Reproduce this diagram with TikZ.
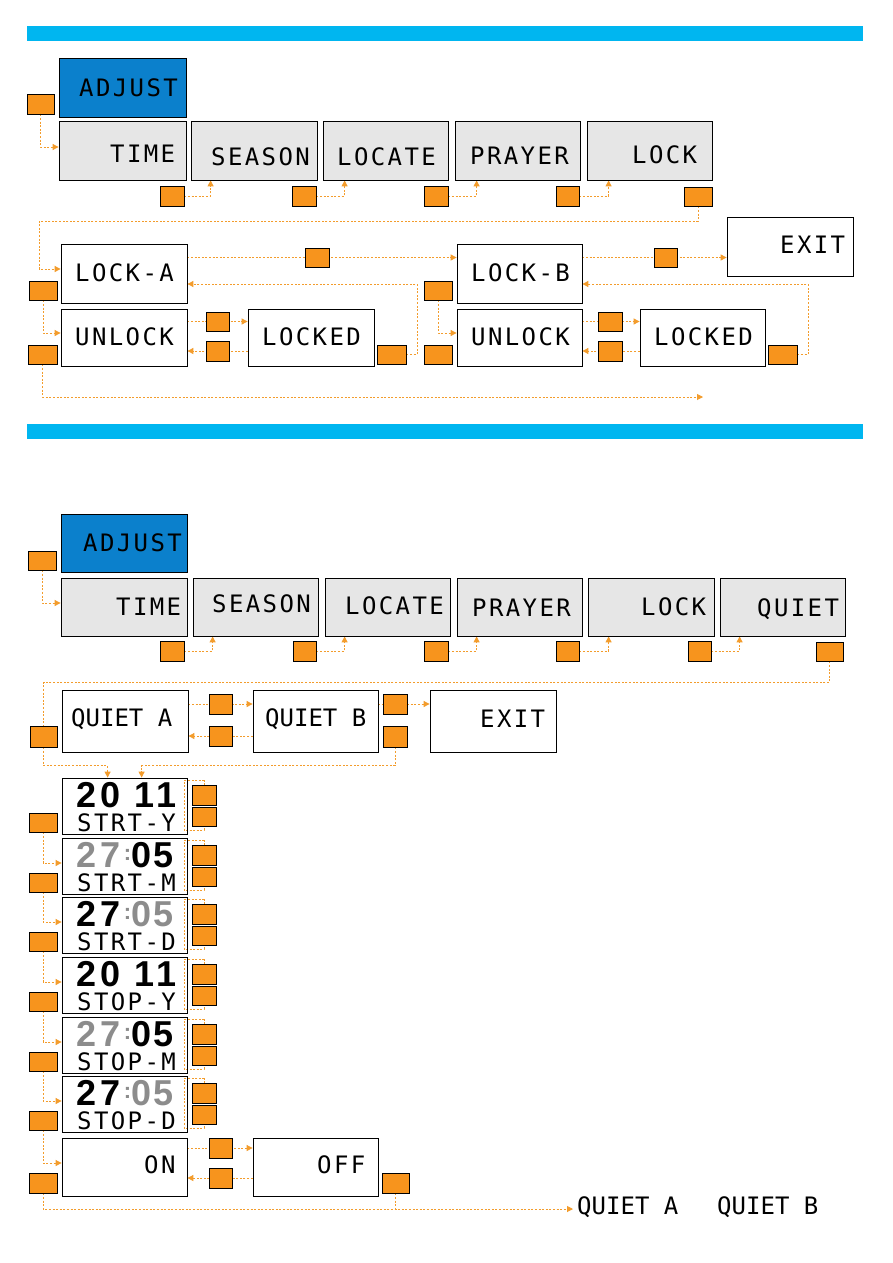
\documentclass[tikz,border=0pt]{standalone}
\usepackage{fontspec}
\usetikzlibrary{arrows.meta,calc}
\newfontfamily\lcdfont[LetterSpace=10]{DejaVu Sans Mono}
\newfontfamily\lcdtight{DejaVu Sans Mono}
\newfontfamily\digfont{Liberation Sans}
\definecolor{barblue}{HTML}{00B6F0}
\definecolor{adjblue}{HTML}{0B80CC}
\definecolor{keyor}{HTML}{F7941D}
\definecolor{lineor}{HTML}{F39C2C}
\definecolor{boxgray}{HTML}{E6E6E6}
\definecolor{diggray}{HTML}{8C8C8C}
\pgfdeclarelayer{bg}
\pgfsetlayers{bg,main}
\newcommand\mkbox[6]{%
  \pgfmathsetmacro\mybw{#4-#2}\pgfmathsetmacro\mybh{#5-#3}%
  \node[#6,minimum width=\mybw pt,minimum height=\mybh pt] (#1) at ({(#2+#4)/2},{(#3+#5)/2}) {};}
% year row: name, y
\newcommand\yearrow[2]{%
  \node[dig] (#1a) at (87,#2) {2};
  \node[dig] (#1b) at (111,#2) {0};
  \node[dig] (#1c) at (145,#2) {1};
  \node[dig] (#1d) at (167,#2) {1};}
% date row: name, y, colour of 27, colour of 05
\newcommand\daterow[4]{%
  \node[dig,#3] (#1a) at (87,#2) {2};
  \node[dig,#3] (#1b) at (111,#2) {7};
  \node[colon,diggray] (#1c) at (127.5,#2) {:};
  \node[dig,#4] (#1d) at (142,#2) {0};
  \node[dig,#4] (#1e) at (164,#2) {5};}
\tikzset{
  box/.style={draw=black,line width=0.8pt,inner sep=0pt},
  keybox/.style={draw=black,line width=0.7pt,fill=keyor,inner sep=0pt},
  conn/.style={lineor,line width=0.9pt,dash pattern=on 2pt off 1.6pt,-{Triangle[length=6pt,width=6pt]}},
  connz/.style={lineor,line width=0.9pt,dash pattern=on 2pt off 1.6pt},
  lab/.style={font=\lcdfont\fontsize{24pt}{24pt}\selectfont,anchor=west,inner sep=0pt},
  labt/.style={font=\lcdtight\fontsize{24pt}{24pt}\selectfont,anchor=west,inner sep=0pt},
  dig/.style={font=\digfont\bfseries\fontsize{36pt}{36pt}\selectfont,inner sep=0pt},
  colon/.style={font=\digfont\bfseries\fontsize{22pt}{22pt}\selectfont,inner sep=0pt},
}
\begin{document}
\begin{tikzpicture}[x=1pt,y=-1pt]
\useasboundingbox (0,0) rectangle (893,1263);
\begin{pgfonlayer}{bg}
\fill[white] (0,0) rectangle (893,1263);
\end{pgfonlayer}
\fill[barblue] (27,26) rectangle (863,41);
\fill[barblue] (27,424) rectangle (863,439);

% ===== Section 1 =====
\mkbox{adjA}{59}{58}{186}{117}{box,fill=adjblue}
\mkbox{timeA}{59}{121}{186}{180}{box,fill=boxgray}
\mkbox{seasonA}{191}{121}{317}{180}{box,fill=boxgray}
\mkbox{locateA}{323}{121}{448}{180}{box,fill=boxgray}
\mkbox{prayerA}{455}{121}{580}{180}{box,fill=boxgray}
\mkbox{lockA}{587}{121}{712}{180}{box,fill=boxgray}
\mkbox{exitA}{727}{217}{853}{276}{box}
\mkbox{lka}{61}{244}{187}{303}{box}
\mkbox{ula}{61}{309}{187}{366}{box}
\mkbox{lda}{248}{309}{374}{366}{box}
\mkbox{lkb}{457}{244}{582}{303}{box}
\mkbox{ulb}{457}{309}{582}{366}{box}
\mkbox{ldb}{640}{309}{765}{366}{box}

\mkbox{kAdjA}{27}{94}{54}{114}{keybox}
\mkbox{kTimeA}{160}{186}{184}{206}{keybox}
\mkbox{kSeasonA}{292}{186}{316}{206}{keybox}
\mkbox{kLocateA}{424}{186}{448}{206}{keybox}
\mkbox{kPrayerA}{556}{186}{579}{206}{keybox}
\mkbox{kLockA}{684}{187}{712}{206}{keybox}
\mkbox{kAB}{305}{248}{329}{267}{keybox}
\mkbox{kBE}{654}{248}{677}{267}{keybox}
\mkbox{kLka}{29}{281}{57}{300}{keybox}
\mkbox{kUla}{28}{345}{57}{364}{keybox}
\mkbox{kUa1}{206}{312}{229}{331}{keybox}
\mkbox{kUa2}{206}{341}{229}{361}{keybox}
\mkbox{kLda}{377}{345}{406}{364}{keybox}
\mkbox{kLkb}{424}{281}{452}{300}{keybox}
\mkbox{kUlb}{424}{345}{452}{364}{keybox}
\mkbox{kUb1}{598}{312}{622}{331}{keybox}
\mkbox{kUb2}{598}{341}{622}{361}{keybox}
\mkbox{kLdb}{768}{345}{797}{364}{keybox}

\node[lab] (tAdjA) at (79,88) {ADJUST};
\node[lab] (tTimeA) at (110,154) {TIME};
\node[lab] (tSeasonA) at (211,157) {SEASON};
\node[lab] (tLocateA) at (337,157) {LOCATE};
\node[lab] (tPrayerA) at (470,156) {PRAYER};
\node[lab] (tLockA) at (632,155) {LOCK};
\node[lab] (tExitA) at (780,245) {EXIT};
\node[lab] (tLka) at (75,273) {LOCK-A};
\node[lab] (tUla) at (75,337) {UNLOCK};
\node[lab] (tLda) at (262,337) {LOCKED};
\node[lab] (tLkb) at (471,273) {LOCK-B};
\node[lab] (tUlb) at (471,337) {UNLOCK};
\node[lab] (tLdb) at (654,337) {LOCKED};

\coordinate (t1) at (39,221);
\coordinate (fa) at (417,284);
\coordinate (fb) at (808,284);
\coordinate (endA) at (703,397);
\begin{pgfonlayer}{bg}
\draw[conn] (kAdjA.south) |- ([yshift=3.5pt]timeA.west);
\draw[conn] (kTimeA.east) -| ([xshift=20pt]seasonA.south west);
\draw[conn] (kSeasonA.east) -| ([xshift=22pt]locateA.south west);
\draw[conn] (kLocateA.east) -| ([xshift=22pt]prayerA.south west);
\draw[conn] (kPrayerA.east) -| ([xshift=22pt]lockA.south west);
\draw[conn] (kLockA.south) |- (t1) |- ([yshift=4.5pt]lka.west);
\draw[conn] (lka.east |- kAB.center) -- (lkb.west |- kAB.center);
\draw[conn] (lkb.east |- kBE.center) -- (exitA.west |- kBE.center);
\draw[conn] (kLda.east) -| (fa) -- (lka.east |- fa);
\draw[conn] (kLka.south) |- ([yshift=4.5pt]ula.west);
\draw[conn] (ula.east |- kUa1.center) -- (lda.west |- kUa1.center);
\draw[conn] (lda.west |- kUa2.center) -- (ula.east |- kUa2.center);
\draw[conn] (kUla.south) |- (endA);
\draw[conn] (kLkb.south) |- ([yshift=4.5pt]ulb.west);
\draw[conn] (ulb.east |- kUb1.center) -- (ldb.west |- kUb1.center);
\draw[conn] (ldb.west |- kUb2.center) -- (ulb.east |- kUb2.center);
\draw[conn] (kLdb.east) -| (fb) -- (lkb.east |- fb);
\end{pgfonlayer}

% ===== Section 2 =====
\mkbox{adjB}{61}{514}{187}{572}{box,fill=adjblue}
\mkbox{timeB}{61}{578}{187}{636}{box,fill=boxgray}
\mkbox{seasonB}{193}{578}{318}{636}{box,fill=boxgray}
\mkbox{locateB}{325}{578}{450}{636}{box,fill=boxgray}
\mkbox{prayerB}{457}{578}{582}{636}{box,fill=boxgray}
\mkbox{lockB}{588}{578}{714}{636}{box,fill=boxgray}
\mkbox{quietB}{720}{578}{845}{636}{box,fill=boxgray}
\mkbox{kAdjB}{28}{551}{56}{570}{keybox}
\mkbox{kTimeB}{160}{641}{184}{661}{keybox}
\mkbox{kSeasonB}{293}{641}{316}{661}{keybox}
\mkbox{kLocateB}{424}{641}{448}{661}{keybox}
\mkbox{kPrayerB}{556}{641}{579}{661}{keybox}
\mkbox{kLockB}{688}{641}{711}{661}{keybox}
\mkbox{kQuietB}{816}{642}{843}{661}{keybox}

\node[lab] (tAdjB) at (83,543) {ADJUST};
\node[lab] (tTimeB) at (116,607) {TIME};
\node[lab] (tSeasonB) at (212,604) {SEASON};
\node[lab] (tLocateB) at (345,606) {LOCATE};
\node[lab] (tPrayerB) at (472,608) {PRAYER};
\node[lab] (tLockB) at (641,607) {LOCK};
\node[lab] (tQuietB) at (757,609) {QUIET};

\mkbox{qa}{62}{690}{188}{752}{box}
\mkbox{qb}{253}{690}{378}{752}{box}
\mkbox{exitB}{430}{690}{556}{752}{box}
\mkbox{kQa}{30}{726}{57}{747}{keybox}
\mkbox{kQab1}{209}{694}{232}{714}{keybox}
\mkbox{kQab2}{209}{726}{232}{746}{keybox}
\mkbox{kQbe1}{383}{694}{407}{714}{keybox}
\mkbox{kQbe2}{383}{726}{407}{747}{keybox}
\node[labt] (tQa) at (71,719) {QUIET A};
\node[labt] (tQb) at (265,719) {QUIET B};
\node[lab] (tExitB) at (480,719) {EXIT};

% date boxes
\foreach \i/\T in {1/778,2/838,3/897,4/957,5/1017,6/1076}{
  \pgfmathsetmacro\Tb{\T+56}
  \mkbox{ty\i}{62}{\T}{187}{\Tb}{box}
  \pgfmathsetmacro\ua{\T+7}\pgfmathsetmacro\ub{\T+27}
  \pgfmathsetmacro\la{\T+29}\pgfmathsetmacro\lb{\T+48}
  \mkbox{kR\i u}{192}{\ua}{216}{\ub}{keybox}
  \mkbox{kR\i l}{192}{\la}{216}{\lb}{keybox}
  \pgfmathsetmacro\sa{\T+35}\pgfmathsetmacro\sb{\T+54}
  \mkbox{kL\i}{29}{\sa}{57}{\sb}{keybox}
}
\mkbox{on}{62}{1138}{187}{1196}{box}
\mkbox{off}{253}{1138}{378}{1196}{box}
\mkbox{kO1}{209}{1138}{232}{1158}{keybox}
\mkbox{kO2}{209}{1168}{232}{1188}{keybox}
\mkbox{kOn}{29}{1173}{57}{1193}{keybox}
\mkbox{kOff}{382}{1173}{409}{1193}{keybox}

% digits and labels
\yearrow{dA}{795}
\node[lab] (l1) at (77,823) {STRT-Y};
\daterow{dB}{855}{diggray}{black}
\node[lab] (l2) at (77,883) {STRT-M};
\daterow{dC}{914}{black}{diggray}
\node[lab] (l3) at (77,942) {STRT-D};
\yearrow{dD}{974}
\node[lab] (l4) at (77,1002) {STOP-Y};
\daterow{dE}{1034}{diggray}{black}
\node[lab] (l5) at (77,1062) {STOP-M};
\daterow{dF}{1093}{black}{diggray}
\node[lab] (l6) at (77,1121) {STOP-D};

\node[lab] (tOn) at (144,1165) {ON};
\node[lab] (tOff) at (317,1165) {OFF};
\node[labt] (qtA) at (577,1207) {QUIET A};
\node[labt] (qtB) at (717,1207) {QUIET B};
\coordinate (endB) at ([xshift=-4pt,yshift=-2pt]qtA.west);

\begin{pgfonlayer}{bg}
\draw[conn] (kAdjB.south) |- ([yshift=4pt]timeB.west);
\draw[conn] (kTimeB.east) -| ([xshift=20pt]seasonB.south west);
\draw[conn] (kSeasonB.east) -| ([xshift=20pt]locateB.south west);
\draw[conn] (kLocateB.east) -| ([xshift=20pt]prayerB.south west);
\draw[conn] (kPrayerB.east) -| ([xshift=21pt]lockB.south west);
\draw[conn] (kLockB.east) -| ([xshift=20pt]quietB.south west);
\draw[connz] (kQuietB.south) -- ++(0,21) -| (kQa.north);
\draw[conn] (qa.east |- kQab1.center) -- (qb.west |- kQab1.center);
\draw[conn] (qb.west |- kQab2.center) -- (qa.east |- kQab2.center);
\draw[conn] (qb.east |- kQbe1.center) -- (exitB.west |- kQbe1.center);
\draw[conn] (kQa.south) |- ([xshift=46pt,yshift=12pt]ty1.north west) -- ([xshift=46pt]ty1.north west);
\draw[conn] (kQbe2.south) |- ([xshift=80pt,yshift=12pt]ty1.north west) -- ([xshift=80pt]ty1.north west);
\foreach \i in {1,...,6}{
  \draw[connz] (kR\i u.north) |- ++(-20,-4) |- ([yshift=-4pt]kR\i l.south) -- (kR\i l.south);
}
\draw[conn] (kL1.south) |- ([yshift=3pt]ty2.west);
\draw[conn] (kL2.south) |- ([yshift=3pt]ty3.west);
\draw[conn] (kL3.south) |- ([yshift=3pt]ty4.west);
\draw[conn] (kL4.south) |- ([yshift=3pt]ty5.west);
\draw[conn] (kL5.south) |- ([yshift=3pt]ty6.west);
\draw[conn] (kL6.south) |- ([yshift=4pt]on.west);
\draw[conn] (on.east |- kO1.center) -- (off.west |- kO1.center);
\draw[conn] (off.west |- kO2.center) -- (on.east |- kO2.center);
\draw[conn] (kOn.south) |- (endB);
\draw[connz] (kOff.south) -- (kOff.south |- endB);
\end{pgfonlayer}
\end{tikzpicture}
\end{document}
